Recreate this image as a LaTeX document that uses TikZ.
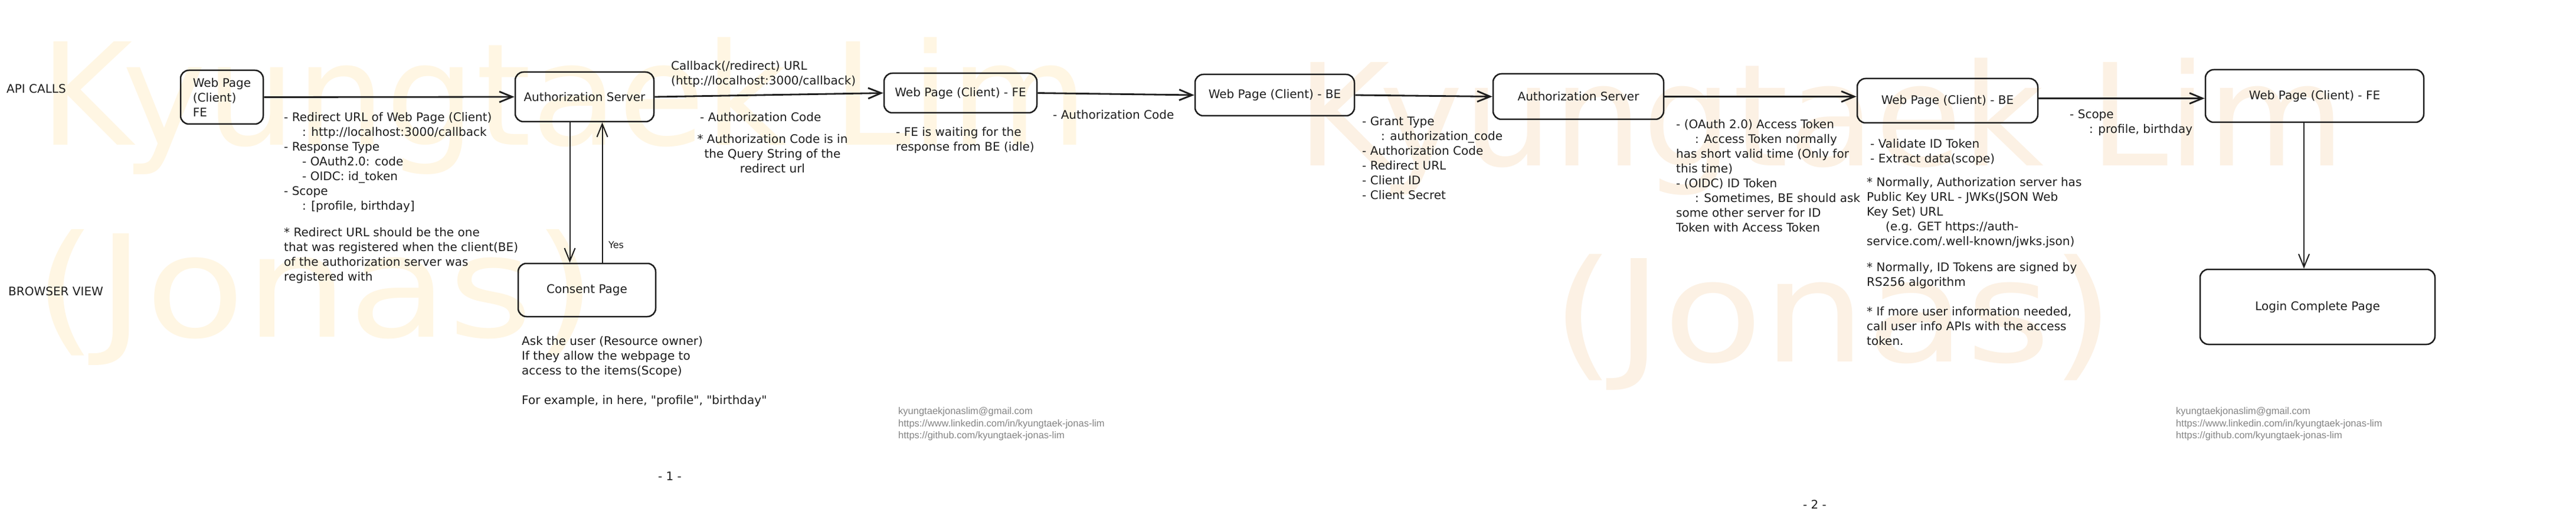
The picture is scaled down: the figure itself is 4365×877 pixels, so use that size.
\documentclass[tikz,border=0pt]{standalone}
\usepackage{fontspec}
\setmainfont{DejaVu Sans}[Ligatures=TeXOff]
\newfontfamily\contactfont{Liberation Sans}
\usetikzlibrary{arrows.meta}
\definecolor{ink}{HTML}{1E1E1E}
\definecolor{wmA}{HTML}{FFF6E3}
\definecolor{wmB}{HTML}{FCF1E4}
\definecolor{contactgray}{HTML}{858585}
\begin{document}
\begin{tikzpicture}[x=1pt,y=-1pt,
  box/.style={draw=ink, line width=2.5pt, rounded corners=14pt, inner sep=0pt, align=center, text=ink, font=\fontsize{20}{25}\selectfont},
  txt/.style={anchor=north west, inner sep=0pt, align=left, text=ink, font=\fontsize{20}{25}\selectfont},
  ctxt/.style={anchor=north, inner sep=0pt, align=center, text=ink, font=\fontsize{20}{25}\selectfont},
  lane/.style={anchor=west, inner sep=0pt, text=ink, font=\fontsize{20}{25}\selectfont},
  small/.style={anchor=west, inner sep=0pt, text=ink, font=\fontsize{16}{20}\selectfont},
  contact/.style={anchor=north west, inner sep=0pt, align=left, text=contactgray, font=\contactfont\fontsize{16.5}{20.5}\selectfont},
  pagenum/.style={inner sep=0pt, text=ink, font=\fontsize{20}{25}\selectfont},
  wmark/.style={anchor=base west, inner sep=0pt, font=\fontsize{240}{240}\selectfont},
  flow/.style={draw=ink, line width=2.8pt, -{Straight Barb[length=22pt,width=18pt]}},
  flowv/.style={draw=ink, line width=2pt, -{Straight Barb[length=22pt,width=18pt]}}
]
\useasboundingbox[fill=white] (0,0) rectangle (4365,877);

% watermarks
\node[wmark, text=wmA] (wm1a) at (67,246) {Kyungtaek Lim};
\node[wmark, text=wmA] (wm1b) at (57,570) {\scalebox{1.15}[1]{(Jonas)}};
\node[wmark, text=wmB] (wm2a) at (2197,280) {Kyungtaek Lim};
\node[wmark, text=wmB] (wm2b) at (2629,612) {\scalebox{1.15}[1]{(Jonas)}};

% lane labels
\node[lane] (api) at (11,150) {API CALLS};
\node[lane] (browser) at (14,493) {BROWSER VIEW};

% boxes
\node[box, align=left, minimum width=140pt, minimum height=91pt] (wp1) at (376,164.5) {Web Page\\(Client)\\FE};
\node[box, minimum width=235pt, minimum height=84pt] (auth1) at (990.5,164) {Authorization Server};
\node[box, minimum width=259pt, minimum height=67pt] (fe1) at (1627.5,157.5) {Web Page (Client) - FE};
\node[box, minimum width=270pt, minimum height=70pt] (be1) at (2160,161) {Web Page (Client) - BE};
\node[box, minimum width=289pt, minimum height=77pt] (auth2) at (2674.5,163.5) {Authorization Server};
\node[box, minimum width=306pt, minimum height=75pt] (be2) at (3300,170.5) {Web Page (Client) - BE};
\node[box, minimum width=370pt, minimum height=89pt] (fe2) at (3922,162.5) {Web Page (Client) - FE};
\node[box, minimum width=233pt, minimum height=90pt] (consent) at (994.5,491) {Consent Page};
\node[box, minimum width=398pt, minimum height=127pt] (login) at (3927,519.5) {Login Complete Page};

% connectors
\draw[flow] (wp1.east) -- (auth1.west);
\draw[flow] (auth1.east) -- (fe1.west);
\draw[flow] (fe1.east) -- (be1.west);
\draw[flow] (be1.east) -- (auth2.west);
\draw[flow] (auth2.east) -- (auth2.east -| be2.west);
\draw[flow] ([yshift=4pt]be2.east) -- ([yshift=4pt]be2.east -| fe2.west);
\draw[flowv] ([xshift=-25pt]auth1.south) -- ([xshift=-25pt]auth1.south |- consent.north);
\draw[flowv] ([xshift=30pt]auth1.south |- consent.north) -- ([xshift=30pt]auth1.south);
\draw[flowv] ([xshift=-18pt]fe2.south) -- ([xshift=-18pt]fe2.south |- login.north);

% texts
\node[txt] (t1a) at (481,190) {- Redirect URL of Web Page (Client)\\
\hspace*{31pt}: http://localhost:3000/callback\\
- Response Type\\
\hspace*{31pt}- OAuth2.0: code\\
\hspace*{31pt}- OIDC: id\_token\\
- Scope\\
\hspace*{31pt}: [profile, birthday]};
\node[txt] (t1b) at (481,385) {* Redirect URL should be the one\\
that was registered when the client(BE)\\
of the authorization server was\\
registered with};
\node[txt] (t2) at (1137,103) {Callback(/redirect) URL\\(http://localhost:3000/callback)};
\node[txt] (t3) at (1186,190) {- Authorization Code};
\node[ctxt] (t4) at (1309,227) {* Authorization Code is in\\the Query String of the\\redirect url};
\node[txt] (t5) at (1518,215) {- FE is waiting for the\\response from BE (idle)};
\node[txt] (t6) at (1784,186) {- Authorization Code};
\node[txt] (t7) at (2308,197) {- Grant Type\\
\hspace*{32pt}: authorization\_code\\
- Authorization Code\\
- Redirect URL\\
- Client ID\\
- Client Secret};
\node[txt] (t8) at (2840,202) {- (OAuth 2.0) Access Token\\
\hspace*{32pt}: Access Token normally\\
has short valid time (Only for\\
this time)\\
- (OIDC) ID Token\\
\hspace*{32pt}: Sometimes, BE should ask\\
some other server for ID\\
Token with Access Token};
\node[txt] (t9) at (3507,185) {- Scope\\\hspace*{33pt}: profile, birthday};
\node[txt] (t10) at (3169,235) {- Validate ID Token\\- Extract data(scope)};
\node[txt] (t11a) at (3163,300) {* Normally, Authorization server has\\
Public Key URL - JWKs(JSON Web\\
Key Set) URL\\
\hspace*{32pt}(e.g. GET https://auth-\\
service.com/.well-known/jwks.json)};
\node[txt] (t11b) at (3163,444) {* Normally, ID Tokens are signed by\\RS256 algorithm};
\node[txt] (t11c) at (3163,519) {* If more user information needed,\\call user info APIs with the access\\token.};
\node[txt] (t12) at (884,569) {Ask the user (Resource owner)\\
If they allow the webpage to\\
access to the items(Scope)\\[25pt]
For example, in here, "profile", "birthday"};
\node[small] (yes) at (1031,415) {Yes};

% contacts
\node[contact] (c1) at (1522,689.5) {kyungtaekjonaslim@gmail.com\\https://www.linkedin.com/in/kyungtaek-jonas-lim\\https://github.com/kyungtaek-jonas-lim};
\node[contact] (c2) at (3687,689.5) {kyungtaekjonaslim@gmail.com\\https://www.linkedin.com/in/kyungtaek-jonas-lim\\https://github.com/kyungtaek-jonas-lim};

% page numbers
\node[pagenum] (p1) at (1135,806) {- 1 -};
\node[pagenum] (p2) at (3075,854) {- 2 -};
\end{tikzpicture}
\end{document}
